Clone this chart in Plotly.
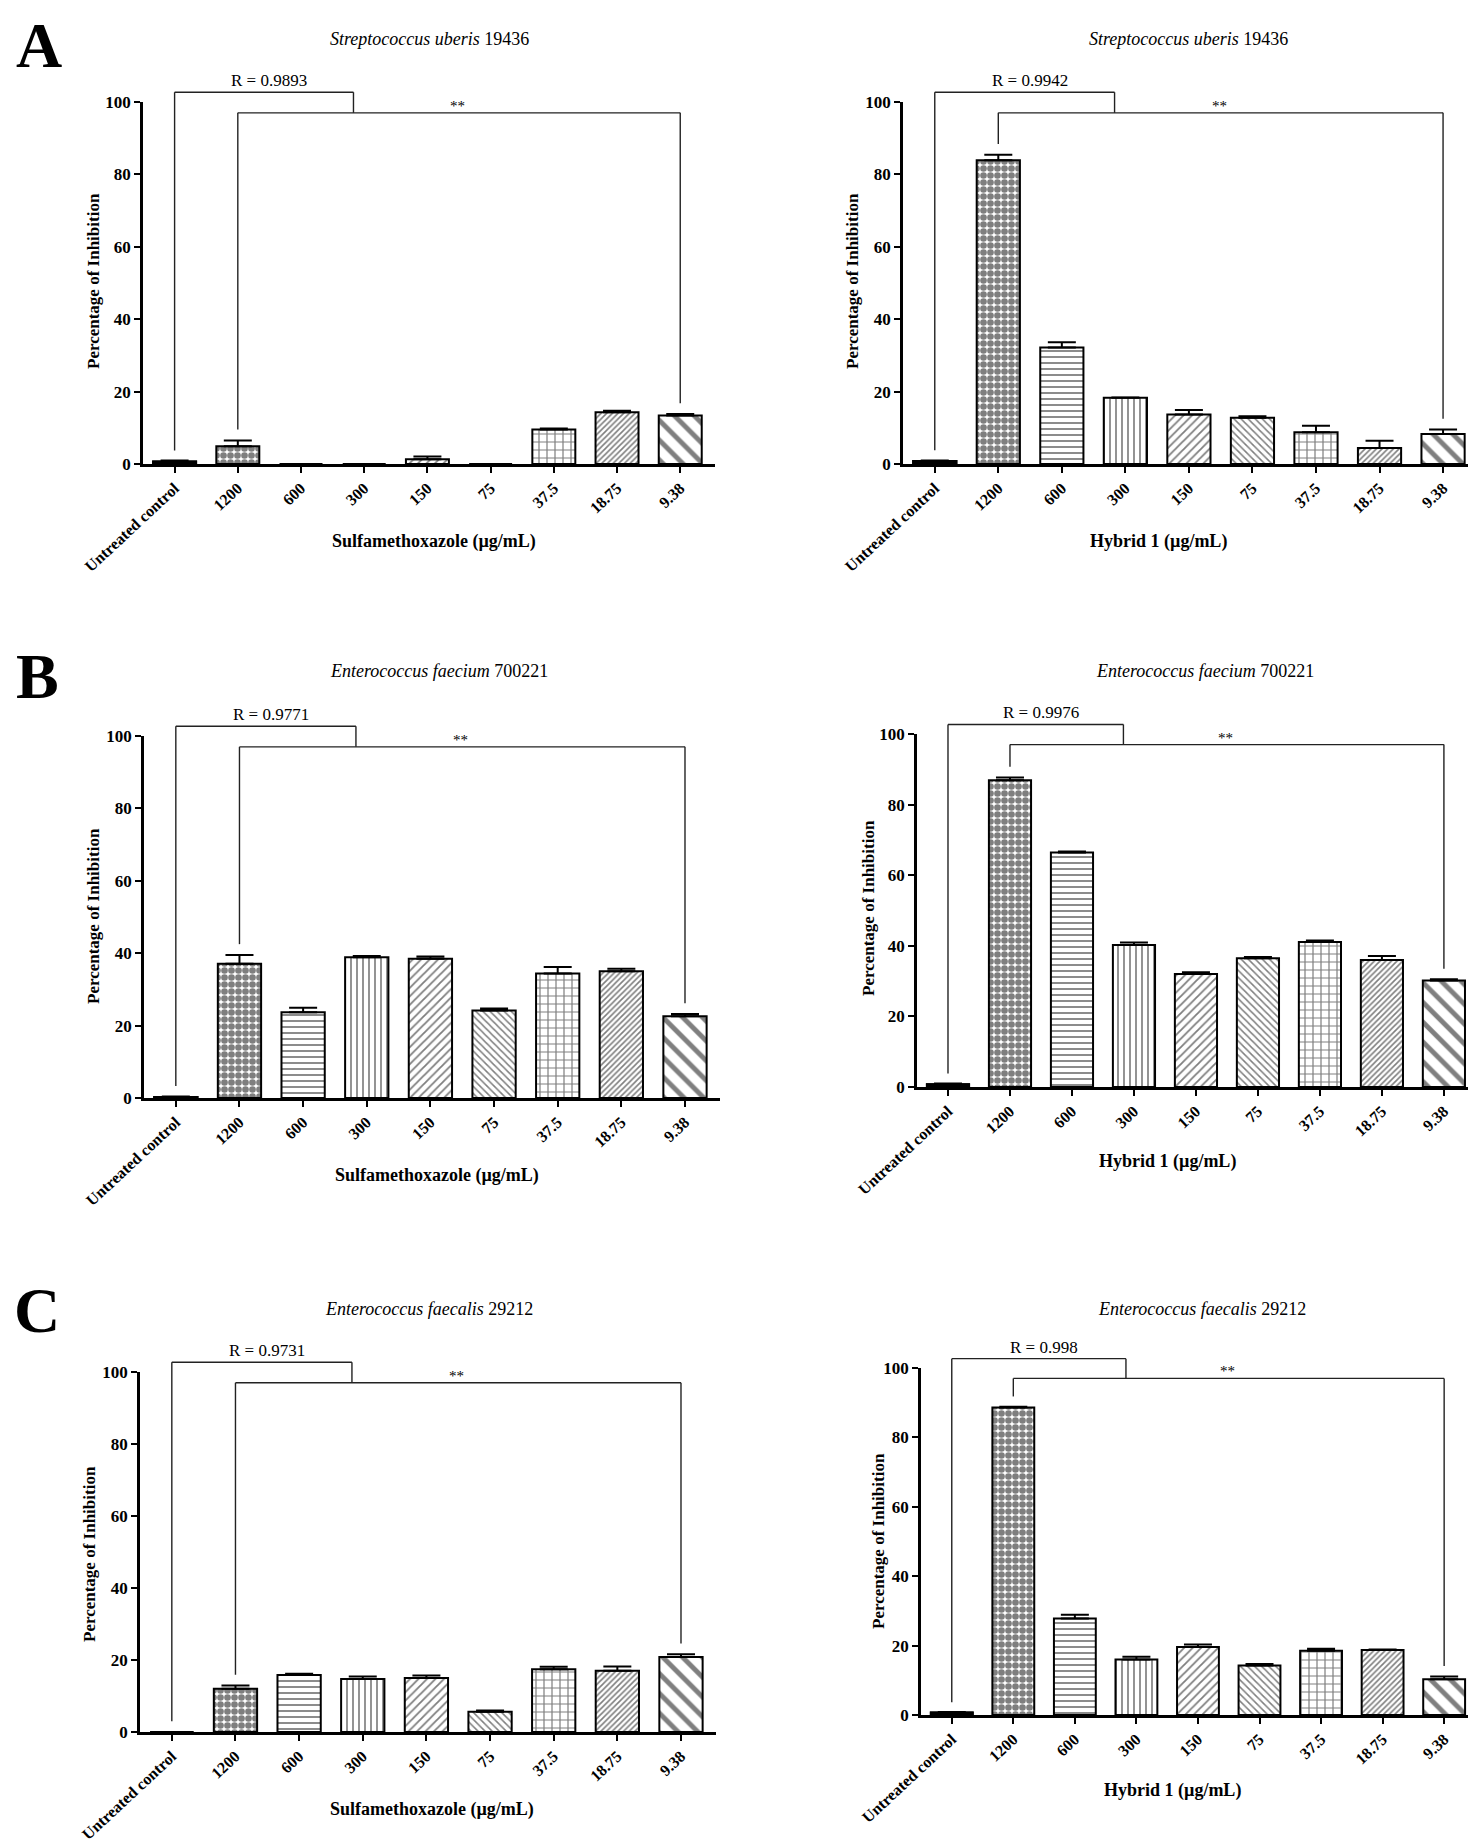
import plotly.graph_objects as go

# categories (x axis) shared by every panel
cats = ["Untreated control", "1200", "600", "300", "150", "75", "37.5", "18.75", "9.38"]

# percentage of inhibition
smx_uberis = [0.7, 4.9, 0, 0, 1.3, 0, 9.5, 14.3, 13.4]
smx_uberis_err = [0.3, 1.6, 0, 0, 0.8, 0, 0.3, 0.4, 0.4]
hyb_uberis = [0.8, 83.9, 32.2, 18.3, 13.7, 12.8, 8.8, 4.4, 8.3]
hyb_uberis_err = [0.2, 1.5, 1.4, 0.1, 1.2, 0.4, 1.8, 2.0, 1.2]

smx_faecium = [0.3, 37.1, 23.7, 38.9, 38.5, 24.2, 34.4, 35.0, 22.6]
smx_faecium_err = [0.1, 2.4, 1.2, 0.3, 0.6, 0.5, 1.8, 0.7, 0.6]
hyb_faecium = [0.8, 86.9, 66.4, 40.2, 32.0, 36.5, 41.1, 36.0, 30.2]
hyb_faecium_err = [0.2, 0.8, 0.3, 0.7, 0.5, 0.3, 0.4, 1.1, 0.3]

smx_faecalis = [0, 12.0, 15.8, 14.7, 15.0, 5.6, 17.4, 17.0, 20.8]
smx_faecalis_err = [0, 0.9, 0.4, 0.7, 0.7, 0.4, 0.7, 1.2, 0.8]
hyb_faecalis = [0.7, 88.6, 27.8, 16.0, 19.6, 14.3, 18.5, 18.7, 10.3]
hyb_faecalis_err = [0.2, 0.2, 1.1, 0.8, 0.7, 0.4, 0.6, 0.2, 0.8]

r_values = ["0.9893", "0.9942", "0.9771", "0.9976", "0.9731", "0.998"]
species = ["Streptococcus uberis", "Streptococcus uberis",
           "Enterococcus faecium", "Enterococcus faecium",
           "Enterococcus faecalis", "Enterococcus faecalis"]
strains = ["19436", "19436", "700221", "700221", "29212", "29212"]
compounds = ["Sulfamethoxazole", "Hybrid 1"] * 3
letters = ["A", "B", "C"]

values = [smx_uberis, hyb_uberis, smx_faecium, hyb_faecium, smx_faecalis, hyb_faecalis]
errors = [smx_uberis_err, hyb_uberis_err, smx_faecium_err, hyb_faecium_err,
          smx_faecalis_err, hyb_faecalis_err]

# hatch per bar (GraphPad-like)
pat_shape = ["", ".", "-", "|", "/", "\\", "+", "/", "\\"]
pat_size = [6, 7, 6, 6, 6, 5, 8, 4, 14]
pat_solid = [0.2, 0.7, 0.3, 0.28, 0.3, 0.3, 0.28, 0.4, 0.35]

W, H = 1476, 1841
SERIF = "Liberation Serif"

# plot boxes in pixels: x0, x1, y_top(=100), y_bottom(=0)
boxes = [(135, 707, 94, 456), (895, 1470, 94, 456),
         (136, 712, 728, 1090), (909, 1470, 726, 1079),
         (132, 708, 1364, 1724), (913, 1470, 1360, 1707)]
title_pos = [(421, 31), (1180, 31), (431, 663), (1197, 663), (421, 1301), (1194, 1301)]
ytitle_pos = [(85, 273), (844, 273), (85, 908), (860, 900), (81, 1546), (870, 1533)]
xtitle_pos = [(426, 533), (1150, 533), (429, 1167), (1159, 1153), (424, 1801), (1164, 1782)]
letter_pos = [(31, 37), (29, 668), (29, 1302)]

XR = [-0.5, 8.55]
YMAX = 100
B1, B2 = 102.7, 97.0
JOIN_X, R_X, STAR_X = 2.83, 1.5, 4.48

fig = go.Figure()
shapes = []
annotations = []
xs = list(range(len(cats)))

for i in range(6):
    sfx = "" if i == 0 else str(i + 1)
    xa, ya = "x" + sfx, "y" + sfx
    x0, x1, yt, yb = boxes[i]

    fig.add_trace(go.Bar(
        x=xs, y=values[i], width=0.68, xaxis=xa, yaxis=ya,
        marker=dict(color="white", line=dict(color="black", width=2),
                    pattern=dict(shape=pat_shape, size=pat_size, solidity=pat_solid,
                                 fgcolor="black", bgcolor="white")),
        error_y=dict(type="data", symmetric=False, array=errors[i],
                     arrayminus=[0] * len(cats), color="black", thickness=2, width=14),
        showlegend=False, hoverinfo="skip",
    ))
    # the control bar shows as a filled black sliver
    fig.add_trace(go.Bar(
        x=[0], y=[values[i][0]], width=0.68, xaxis=xa, yaxis=ya,
        marker=dict(color="black", line=dict(color="black", width=2)),
        showlegend=False, hoverinfo="skip",
    ))

    common = dict(showline=True, linecolor="black", linewidth=2.5, ticks="outside",
                  tickcolor="black", tickwidth=2, ticklen=6, showgrid=False,
                  zeroline=False, automargin=False)
    fig.update_layout(**{
        ("xaxis" + sfx): dict(domain=[x0 / W, x1 / W], range=XR, anchor=ya,
                              tickvals=xs, ticktext=cats, tickangle=-43,
                              tickfont=dict(family=SERIF, size=16, color="black",
                                            weight="bold"), **common),
        ("yaxis" + sfx): dict(domain=[1 - yb / H, 1 - yt / H], range=[0, YMAX], anchor=xa,
                              tickvals=[0, 20, 40, 60, 80, 100],
                              tickfont=dict(family=SERIF, size=17, color="black",
                                            weight="bold"), **common),
    })

    v, e = values[i], errors[i]
    ydr = ya + " domain"
    line = dict(color="#222222", width=1.4)
    segs = [
        (0, 0, v[0] + 3, B1), (0, JOIN_X, B1, B1), (JOIN_X, JOIN_X, B1, B2),
        (1, 1, v[1] + e[1] + 3, B2), (1, 8, B2, B2), (8, 8, v[8] + e[8] + 3, B2),
    ]
    for sx0, sx1, sy0, sy1 in segs:
        shapes.append(dict(type="line", xref=xa, yref=ydr, x0=sx0, x1=sx1,
                           y0=sy0 / YMAX, y1=sy1 / YMAX, line=line))
    annotations.append(dict(xref=xa, yref=ydr, x=R_X, y=B1 / YMAX, yanchor="bottom",
                            text="R = " + r_values[i], showarrow=False, yshift=0,
                            font=dict(family=SERIF, size=17, color="black")))
    annotations.append(dict(xref=xa, yref=ydr, x=STAR_X, y=B2 / YMAX, yanchor="bottom",
                            text="**", showarrow=False, yshift=-3,
                            font=dict(family=SERIF, size=15, color="black")))

    tx, ty = title_pos[i]
    annotations.append(dict(xref="paper", yref="paper", x=tx / W, y=1 - ty / H,
                            text="<i>" + species[i] + "</i> " + strains[i],
                            showarrow=False, xanchor="center", yanchor="middle",
                            font=dict(family=SERIF, size=18, color="black")))
    tx, ty = ytitle_pos[i]
    annotations.append(dict(xref="paper", yref="paper", x=tx / W, y=1 - ty / H,
                            text="Percentage of Inhibition", textangle=-90,
                            showarrow=False, xanchor="center", yanchor="middle",
                            font=dict(family=SERIF, size=17, color="black", weight="bold")))
    tx, ty = xtitle_pos[i]
    annotations.append(dict(xref="paper", yref="paper", x=tx / W, y=1 - ty / H,
                            text=compounds[i] + " (µg/mL)",
                            showarrow=False, xanchor="center", yanchor="middle",
                            font=dict(family=SERIF, size=18, color="black", weight="bold")))

for k, lt in enumerate(letters):
    lx, ly = letter_pos[k]
    annotations.append(dict(xref="paper", yref="paper", x=lx / W, y=1 - ly / H,
                            text=lt, showarrow=False, xanchor="center", yanchor="middle",
                            font=dict(family=SERIF, size=64, color="black", weight="bold")))

fig.update_layout(
    width=W, height=H, margin=dict(l=0, r=0, t=0, b=0, autoexpand=False),
    paper_bgcolor="white", plot_bgcolor="white", barmode="overlay",
    shapes=shapes, annotations=annotations, showlegend=False,
)

fig.write_html("out.html")
